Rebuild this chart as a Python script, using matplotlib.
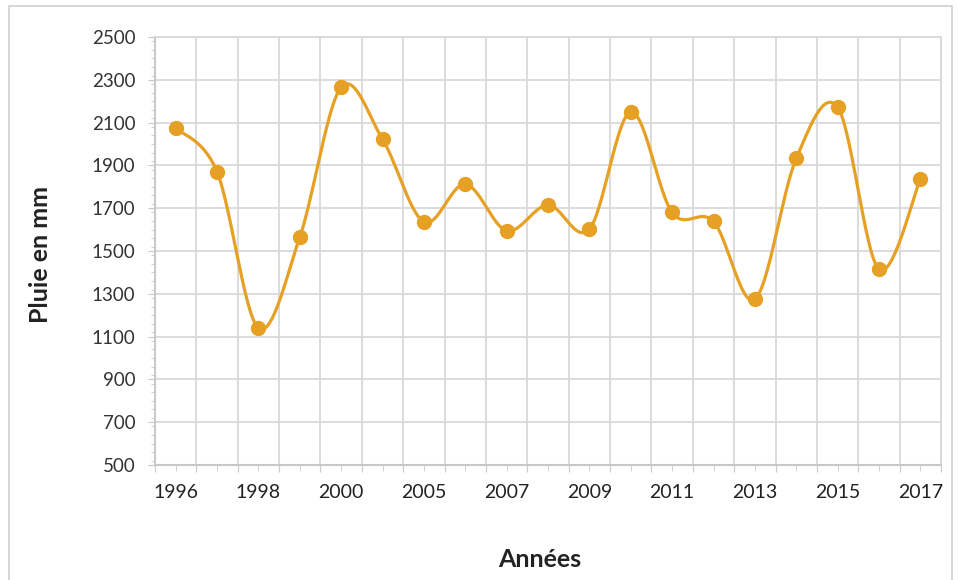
import matplotlib.pyplot as plt
import numpy as np
from matplotlib.ticker import MultipleLocator, FixedLocator, NullFormatter
from matplotlib.patches import Rectangle

# categories (years) and rainfall (mm)
years = ['1996', '1997', '1998', '1999', '2000', '2001', '2005', '2006', '2007', '2008',
         '2009', '2010', '2011', '2012', '2013', '2014', '2015', '2016', '2017']
rain = [2075, 1870, 1140, 1565, 2265, 2022, 1636, 1813, 1595, 1715,
        1602, 2150, 1680, 1638, 1275, 1933, 2172, 1414, 1836]

plt.rcParams['font.family'] = ['Lato', 'DejaVu Sans']

color = '#E6A024'
grid_c = '#D9D9D9'

fig = plt.figure(figsize=(9.58, 5.80), dpi=100)
ax = fig.add_axes([0.1618, 0.1983, 0.8205, 0.7379])

x = np.arange(len(rain))
y = np.array(rain, dtype=float)

# smoothed line like spreadsheet "smooth line" (Catmull-Rom bezier)
px = np.concatenate([[x[0]], x, [x[-1]]])
py = np.concatenate([[y[0]], y, [y[-1]]])
cx, cy = [], []
t = np.linspace(0, 1, 30)
for i in range(1, len(px) - 2):
    p0 = np.array([px[i - 1], py[i - 1]])
    p1 = np.array([px[i], py[i]])
    p2 = np.array([px[i + 1], py[i + 1]])
    p3 = np.array([px[i + 2], py[i + 2]])
    c1 = p1 + (p2 - p0) / 6
    c2 = p2 - (p3 - p1) / 6
    b = ((1 - t) ** 3)[:, None] * p1 + (3 * (1 - t) ** 2 * t)[:, None] * c1 \
        + (3 * (1 - t) * t ** 2)[:, None] * c2 + (t ** 3)[:, None] * p2
    cx.extend(b[:, 0])
    cy.extend(b[:, 1])

ax.plot(cx, cy, color=color, lw=2.3, zorder=3, solid_capstyle='round')
ax.plot(x, y, 'o', color=color, ms=10, zorder=4)

ax.set_xlim(-0.5, len(rain) - 0.5)
ax.set_ylim(500, 2500)

ax.yaxis.set_major_locator(MultipleLocator(200))
ax.yaxis.set_minor_locator(MultipleLocator(40))
ax.set_yticks(np.arange(500, 2501, 200))

# x: gridlines at category boundaries, labels every other category
bounds = np.arange(-0.5, len(rain), 1.0)
ax.xaxis.set_major_locator(FixedLocator(bounds))
ax.xaxis.set_major_formatter(NullFormatter())
ax.xaxis.set_minor_locator(FixedLocator(x))
ax.xaxis.set_minor_formatter(NullFormatter())
for i in range(0, len(years), 2):
    ax.text(x[i], -0.045, years[i], transform=ax.get_xaxis_transform(),
            ha='center', va='top', fontsize=14, color='#222222')

ax.grid(True, which='major', color=grid_c, lw=1.3)
ax.set_axisbelow(True)
for s in ['top', 'right']:
    ax.spines[s].set_color(grid_c)
    ax.spines[s].set_linewidth(1.3)
for s in ['left', 'bottom']:
    ax.spines[s].set_color('#C8C8C8')
    ax.spines[s].set_linewidth(1.5)

ax.tick_params(axis='y', which='major', length=5, color='#C8C8C8', labelsize=13.5,
               labelcolor='#333333', pad=9)
ax.tick_params(axis='y', which='minor', length=3, color='#C8C8C8')
ax.tick_params(axis='x', which='major', length=5, color='#C8C8C8')
ax.tick_params(axis='x', which='minor', length=4, color='#C8C8C8')

fig.text(0.042, 0.562, 'Pluie en mm', rotation=90, ha='center', va='center',
         fontsize=18, fontweight='bold', color='#222222')
fig.text(0.563, 0.036, 'Années', ha='center', va='center',
         fontsize=18, fontweight='bold', color='#222222')

# outer frame
fig.patches.append(Rectangle((0.009, -0.01), 0.985, 1.0, transform=fig.transFigure,
                             fill=False, edgecolor='#D0D0D0', lw=1.2))

fig.savefig('out.png', dpi=100)
